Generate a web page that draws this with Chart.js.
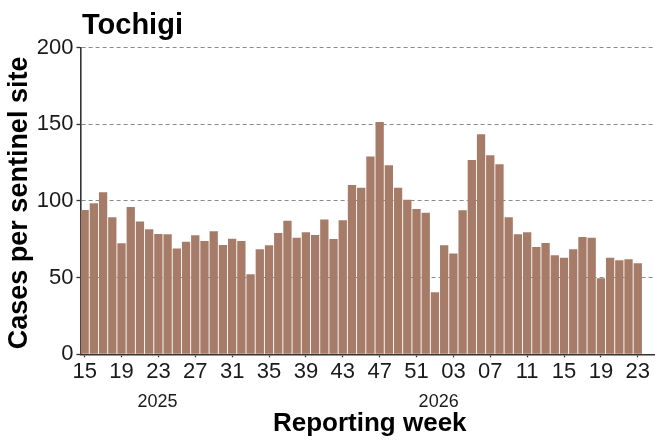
<!DOCTYPE html>
<html>
<head>
<meta charset="utf-8">
<script src="https://cdn.jsdelivr.net/npm/chart.js@4"></script>
<style>
  body { margin: 0; background: #fff; }
  canvas { display: block; }
</style>
</head>
<body>
<canvas id="chart" width="655" height="443"></canvas>
<script>
// weekly cases per sentinel site, Tochigi
const weeks2025 = ['15','16','17','18','19','20','21','22','23','24','25','26','27','28','29','30','31','32','33','34',
                   '35','36','37','38','39','40','41','42','43','44','45','46','47','48','49','50','51','52'];
const weeks2026 = ['01','02','03','04','05','06','07','08','09','10','11','12','13','14','15','16','17','18','19','20',
                   '21','22','23'];
const cases = [94.1, 98.5, 105.7, 89.3, 72.4, 96.1, 86.5, 81.5, 78.5, 78.3,
               68.9, 73.3, 77.6, 73.9, 80.2, 71.3, 75.4, 73.9, 52.2, 68.5,
               71.1, 79.1, 87.0, 75.9, 79.6, 77.8, 87.8, 75.2, 87.4, 110.4,
               108.5, 128.9, 151.5, 123.3, 108.5, 100.7, 94.8, 92.2, 40.4, 71.1,
               65.7, 93.9, 126.7, 143.5, 129.8, 123.9, 89.3, 78.3, 79.6, 70.0,
               72.6, 64.6, 63.0, 68.5, 76.5, 75.9, 49.6, 63.0, 61.3, 62.0, 59.3];
const tickLabels = ['15','19','23','27','31','35','39','43','47','51','03','07','11','15','19','23'];
const years = ['2025', '2026'];

const weeks = weeks2025.concat(weeks2026);
const FONT = "'Liberation Sans', Arial, sans-serif";

// titles and year labels drawn by hand
const textPlugin = {
    id: 'texts',
    afterDraw(chart) {
        const ctx = chart.ctx;
        const x = chart.scales.x;
        const area = chart.chartArea;
        ctx.save();
        ctx.fillStyle = '#000';

        ctx.font = 'bold 29px ' + FONT;
        ctx.textAlign = 'left';
        ctx.textBaseline = 'alphabetic';
        ctx.fillText('Tochigi', 82, 34);

        ctx.font = '18px ' + FONT;
        ctx.textAlign = 'center';
        ctx.fillStyle = '#1a1a1a';
        ctx.fillText(years[0], x.getPixelForValue(7.9), 407);
        ctx.fillText(years[1], x.getPixelForValue(38.4), 407);

        ctx.fillStyle = '#000';
        ctx.font = 'bold 26px ' + FONT;
        ctx.fillText('Reporting week', (area.left + area.right) / 2 + 2, 430.5);

        ctx.translate(26.5, (area.top + area.bottom) / 2 + 2);
        ctx.rotate(-Math.PI / 2);
        ctx.font = 'bold 27px ' + FONT;
        ctx.fillText('Cases per sentinel site', 0, 0);
        ctx.restore();
    }
};

new Chart(document.getElementById('chart'), {
    type: 'bar',
    data: {
        datasets: [{
            data: cases.map((v, i) => ({ x: i, y: v })),
            backgroundColor: '#a67c68',
            borderWidth: 0,
            barPercentage: 0.9,
            categoryPercentage: 1
        }]
    },
    options: {
        responsive: false,
        animation: false,
        devicePixelRatio: 1,
        layout: { padding: { top: 47.5, left: 0, right: 0, bottom: 0 } },
        plugins: { legend: { display: false }, tooltip: { enabled: false } },
        scales: {
            x: {
                type: 'linear',
                offset: false,
                min: -0.45,
                max: 61.87,
                afterBuildTicks: s => {
                    s.ticks = tickLabels.map((t, i) => ({ value: i * 4 }));
                },
                afterFit: s => { s.height = 443 - 354.3; },
                ticks: {
                    autoSkip: false,
                    maxRotation: 0,
                    padding: 1,
                    color: '#1a1a1a',
                    font: { family: FONT, size: 22 },
                    callback: (v, i) => tickLabels[i]
                },
                grid: {
                    offset: false,
                    drawOnChartArea: false,
                    drawTicks: true,
                    tickLength: 3,
                    tickColor: '#333',
                    tickWidth: 1.3
                },
                border: { display: true, color: '#333', width: 1.6 }
            },
            y: {
                min: 0,
                max: 200,
                afterFit: s => { s.width = 80.5; },
                ticks: {
                    stepSize: 50,
                    padding: 3,
                    color: '#1a1a1a',
                    font: { family: FONT, size: 22 }
                },
                grid: {
                    color: '#8a8a8a',
                    lineWidth: 1,
                    tickLength: 4,
                    tickColor: '#333',
                    tickWidth: 1.3
                },
                border: { display: true, color: '#333', width: 1.6, dash: [4, 3] }
            }
        }
    },
    plugins: [textPlugin]
});
</script>
</body>
</html>
